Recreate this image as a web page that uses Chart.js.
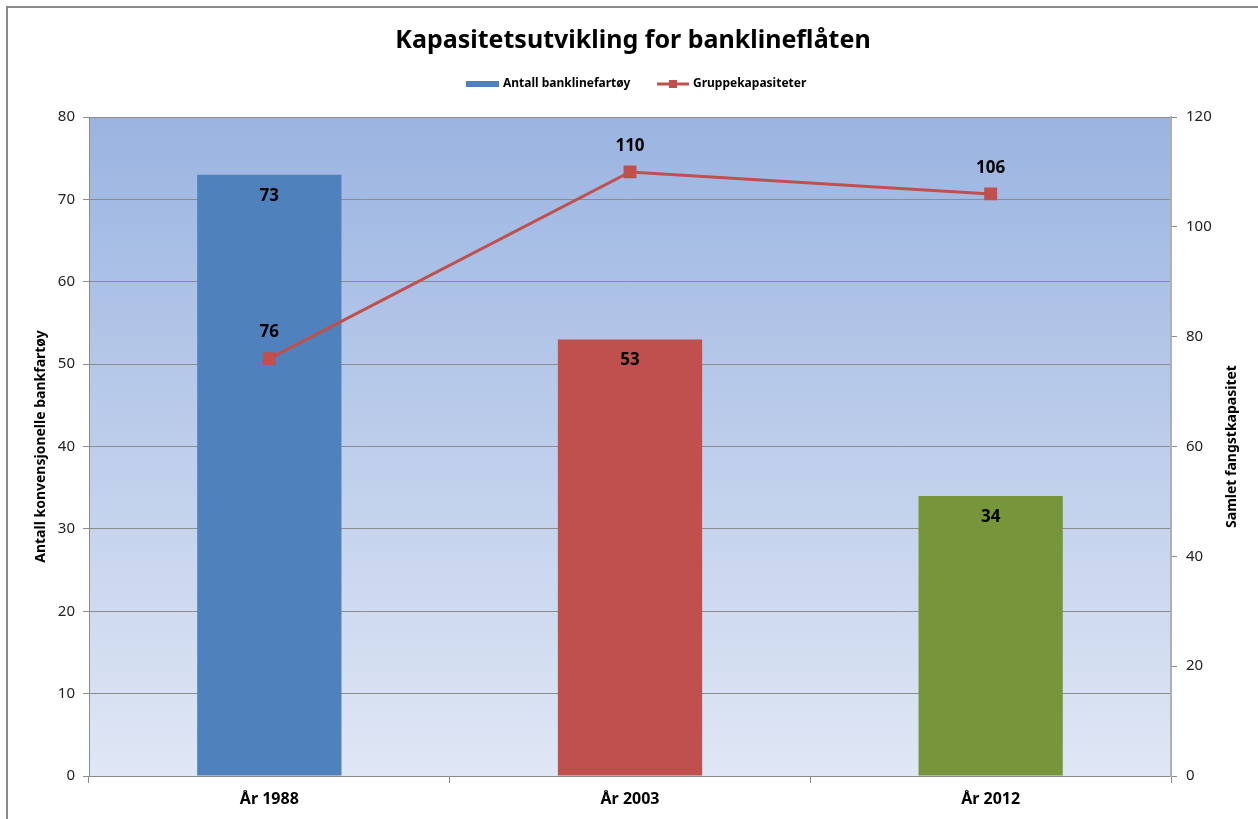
<!DOCTYPE html>
<html>
<head>
<meta charset="utf-8">
<script src="https://cdn.jsdelivr.net/npm/chart.js@4"></script>
<style>
  html, body { margin: 0; padding: 0; background: #fff; }
  #wrap { position: relative; width: 1258px; height: 819px; }
  #frame { position: absolute; left: 6px; top: 6px; right: -4px; bottom: -4px; border-left: 2px solid #8a8a8a; border-top: 2px solid #8a8a8a; pointer-events: none; }
</style>
</head>
<body>
<div id="wrap">
  <canvas id="chart" width="1258" height="819"></canvas>
  <div id="frame"></div>
</div>
<script>
// data
const years = ['År 1988', 'År 2003', 'År 2012'];
const vessels = [73, 53, 34];
const capacity = [76, 110, 106];
const barColors = ['#4f81bd', '#c0504d', '#77963b'];

const titleText = 'Kapasitetsutvikling for banklineflåten';
const leftTitle = 'Antall konvensjonelle bankfartøy';
const rightTitle = 'Samlet fangstkapasitet';

const FONT = "'Noto Sans', 'Open Sans', sans-serif";

// bakgrunn i plottområdet (gradient)
const plotBg = {
    id: 'plotBg',
    beforeDraw(chart) {
        const { ctx, chartArea: a } = chart;
        const g = ctx.createLinearGradient(0, a.top, 0, a.bottom);
        g.addColorStop(0, '#9ab4e1');
        g.addColorStop(1, '#e0e7f5');
        ctx.save();
        ctx.fillStyle = g;
        ctx.fillRect(a.left, a.top, a.right - a.left, a.bottom - a.top);
        ctx.restore();
    }
};

// tittel, legende, høyre aksetittel og verdietiketter
const extras = {
    id: 'extras',
    afterDraw(chart) {
        const { ctx, chartArea: a } = chart;
        ctx.save();
        // tittel
        ctx.fillStyle = '#000';
        ctx.font = 'bold 25px ' + FONT;
        ctx.textAlign = 'center';
        ctx.textBaseline = 'middle';
        ctx.fillText(titleText, 633, 41);

        // legende
        ctx.font = 'bold 12px ' + FONT;
        ctx.textAlign = 'left';
        ctx.fillStyle = '#4f81bd';
        ctx.fillRect(466, 81, 33, 6);
        ctx.fillStyle = '#000';
        ctx.fillText(chart.data.datasets[0].label, 503, 84);
        ctx.strokeStyle = '#c0504d';
        ctx.lineWidth = 3;
        ctx.beginPath(); ctx.moveTo(657, 84); ctx.lineTo(689, 84); ctx.stroke();
        ctx.fillStyle = '#c0504d';
        ctx.fillRect(669, 80, 8, 8);
        ctx.fillStyle = '#000';
        ctx.fillText(chart.data.datasets[1].label, 693, 84);

        // høyre aksetittel, lest nedenfra og opp
        ctx.save();
        ctx.translate(1232, (a.top + a.bottom) / 2);
        ctx.rotate(-Math.PI / 2);
        ctx.textAlign = 'center';
        ctx.font = 'bold 14px ' + FONT;
        ctx.fillText(rightTitle, 0, 0);
        ctx.restore();

        // verdietiketter
        ctx.font = 'bold 17px ' + FONT;
        ctx.textAlign = 'center';
        chart.getDatasetMeta(0).data.forEach((el, i) => {
            ctx.fillText(vessels[i], el.x, el.y + 21);
        });
        chart.getDatasetMeta(1).data.forEach((el, i) => {
            ctx.fillText(capacity[i], el.x, el.y - 26);
        });
        ctx.restore();
    }
};

new Chart(document.getElementById('chart').getContext('2d'), {
    data: {
        labels: years,
        datasets: [
            {
                type: 'bar',
                label: 'Antall banklinefartøy',
                data: vessels,
                yAxisID: 'y',
                backgroundColor: barColors,
                barPercentage: 0.4,
                categoryPercentage: 1,
                order: 1
            },
            {
                type: 'line',
                label: 'Gruppekapasiteter',
                data: capacity,
                yAxisID: 'y2',
                borderColor: '#c0504d',
                backgroundColor: '#c0504d',
                borderWidth: 3,
                pointStyle: 'rect',
                pointRadius: 7,
                pointHoverRadius: 7,
                tension: 0,
                order: 0
            }
        ]
    },
    options: {
        responsive: false,
        animation: false,
        layout: { padding: { top: 117, left: 0, right: 0, bottom: 0 } },
        plugins: {
            legend: { display: false },
            tooltip: { enabled: false }
        },
        scales: {
            x: {
                offset: true,
                grid: { display: true, drawOnChartArea: false, offset: true, color: '#8a8a8a', tickLength: 7 },
                border: { color: '#8a8a8a' },
                ticks: { color: '#000', font: { family: FONT, size: 16, weight: 'bold' }, padding: 7 },
                afterFit(s) { s.height = 43; }
            },
            y: {
                position: 'left',
                min: 0, max: 80,
                ticks: { stepSize: 10, color: '#222', font: { family: FONT, size: 15 }, padding: 8 },
                grid: { color: '#8c8c8c', tickLength: 6 },
                border: { color: '#8a8a8a' },
                title: { display: true, text: leftTitle, color: '#000', font: { family: FONT, size: 14, weight: 'bold' }, padding: { top: 33, bottom: 0 } },
                afterFit(s) { s.width = 89; }
            },
            y2: {
                position: 'right',
                min: 0, max: 120,
                ticks: { stepSize: 20, color: '#222', font: { family: FONT, size: 15 }, padding: 9 },
                grid: { drawOnChartArea: false, color: '#8a8a8a', tickLength: 6 },
                border: { color: '#b0b0b0', width: 2 },
                afterFit(s) { s.width = 87; }
            }
        }
    },
    plugins: [plotBg, extras]
});
</script>
</body>
</html>
